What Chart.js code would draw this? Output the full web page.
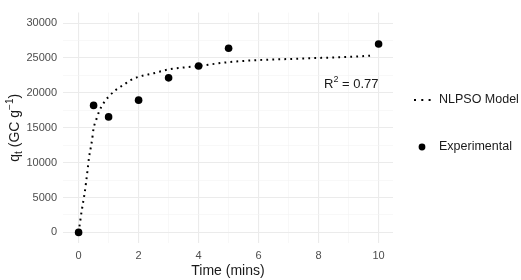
<!DOCTYPE html>
<html>
<head>
<meta charset="utf-8">
<script src="https://cdn.jsdelivr.net/npm/chart.js@4"></script>
<style>
  html, body { margin: 0; padding: 0; background: #fff; }
  #wrap { width: 521px; height: 280px; }
</style>
</head>
<body>
<div id="wrap"><canvas id="myChart" width="521" height="280"></canvas></div>
<script>
// experimental points
const expTime = [0, 0.5, 1, 2, 3, 4, 5, 10]
const expQ = [0, 18200, 16550, 18950, 22150, 23850, 26400, 27000]

// fitted NLPSO curve
const modelTime = [0, 0.05, 0.1, 0.15, 0.2, 0.25, 0.3, 0.35, 0.4, 0.45, 0.5, 0.6, 0.7, 0.8, 0.9, 1.0, 1.25, 1.5, 1.75, 2.0, 2.5, 3, 4, 5, 6, 7, 8, 9, 9.8]
const modelQ = [0, 1500, 3000, 4300, 5600, 7200, 9000, 10800, 12000, 13300, 14900, 16300, 17500, 18300, 18950, 19450, 20450, 21150, 21850, 22300, 22800, 23350, 23850, 24400, 24700, 24850, 25000, 25150, 25350]

// axis ticks
const xMajor = [0, 2, 4, 6, 8, 10]
const xMinor = [1, 3, 5, 7, 9]
const yMajor = [0, 5000, 10000, 15000, 20000, 25000, 30000]
const yMinor = [2500, 7500, 12500, 17500, 22500, 27500]

const rSquared = "0.77"

const FONT = "'Liberation Sans', Arial, sans-serif"
const canvasChart = document.getElementById("myChart").getContext("2d")

function toPoints(xs, ys) {
    return xs.map((x, i) => ({ x: x, y: ys[i] }))
}

function allTicks(major, minor) {
    return major.concat(minor).sort((a, b) => a - b).map((v) => ({ value: v }))
}

function gridColor(major) {
    return (ctx) => (ctx.tick && major.includes(ctx.tick.value) ? "#ebebeb" : "#f4f4f4")
}

function gridWidth(major) {
    return (ctx) => (ctx.tick && major.includes(ctx.tick.value) ? 1.1 : 0.6)
}

// draws a run of text pieces, some raised or lowered
function drawRich(ctx, parts, x, y) {
    let cx = x
    parts.forEach((p) => {
        ctx.font = p.size + "px " + FONT
        ctx.fillText(p.text, cx, y + (p.dy || 0))
        cx += ctx.measureText(p.text).width
    })
}

function richWidth(ctx, parts) {
    let w = 0
    parts.forEach((p) => {
        ctx.font = p.size + "px " + FONT
        w += ctx.measureText(p.text).width
    })
    return w
}

const extras = {
    id: "extras",
    afterDraw(chart) {
        const ctx = chart.ctx
        const area = chart.chartArea
        ctx.save()
        ctx.fillStyle = "#1a1a1a"
        ctx.textBaseline = "alphabetic"
        ctx.textAlign = "left"

        // y title
        const yTitle = [
            { text: "q", size: 14 },
            { text: "t", size: 10, dy: 3 },
            { text: " (GC g", size: 14 },
            { text: "\u22121", size: 10, dy: -6 },
            { text: ")", size: 14 },
        ]
        ctx.translate(19, (area.top + area.bottom) / 2)
        ctx.rotate(-Math.PI / 2)
        drawRich(ctx, yTitle, -richWidth(ctx, yTitle) / 2, 0)
        ctx.setTransform(1, 0, 0, 1, 0, 0)

        // R squared label
        drawRich(ctx, [
            { text: "R", size: 13 },
            { text: "2", size: 9, dy: -6 },
            { text: " = " + rSquared, size: 13 },
        ], 324, 88)

        // legend
        ctx.textBaseline = "middle"
        ctx.font = "12.5px " + FONT
        ctx.fillStyle = "#1a1a1a"
        ctx.fillText("NLPSO Model", 439, 100)
        ctx.fillText("Experimental", 439, 147)

        ctx.strokeStyle = "#000"
        ctx.lineWidth = 2
        ctx.setLineDash([2, 5.3])
        ctx.beginPath()
        ctx.moveTo(414, 100)
        ctx.lineTo(431, 100)
        ctx.stroke()
        ctx.setLineDash([])

        ctx.fillStyle = "#000"
        ctx.beginPath()
        ctx.arc(422, 147, 3.4, 0, Math.PI * 2)
        ctx.fill()
        ctx.restore()
    },
}

const myChart = new Chart(canvasChart, {
    type: "scatter",
    data: {
        datasets: [
            {
                label: "Experimental",
                data: toPoints(expTime, expQ),
                backgroundColor: "#000",
                borderColor: "#000",
                borderWidth: 0,
                pointRadius: 3.8,
                pointHoverRadius: 3.8,
                showLine: false,
            },
            {
                label: "NLPSO Model",
                data: toPoints(modelTime, modelQ),
                borderColor: "#000",
                borderWidth: 2,
                borderDash: [1.8, 4.2],
                pointRadius: 0,
                showLine: true,
                cubicInterpolationMode: "monotone",
            },
        ],
    },
    options: {
        responsive: false,
        animation: false,
        layout: { padding: { left: 0, top: 3, right: 128, bottom: 0 } },
        plugins: {
            legend: { display: false },
            tooltip: { enabled: false },
        },
        scales: {
            x: {
                type: "linear",
                min: -0.52,
                max: 10.48,
                afterBuildTicks: (scale) => { scale.ticks = allTicks(xMajor, xMinor) },
                afterFit: (scale) => { scale.height = 37 },
                ticks: {
                    autoSkip: false,
                    maxRotation: 0,
                    padding: 6,
                    color: "#4d4d4d",
                    font: { family: FONT, size: 11 },
                    callback: (v) => (xMajor.includes(v) ? String(v) : ""),
                },
                grid: { color: gridColor(xMajor), lineWidth: gridWidth(xMajor), drawTicks: false },
                border: { display: false },
                title: {
                    display: true,
                    text: "Time (mins)",
                    color: "#1a1a1a",
                    font: { family: FONT, size: 14 },
                    padding: { top: 0, bottom: 0 },
                },
            },
            y: {
                type: "linear",
                min: -1520,
                max: 31500,
                afterBuildTicks: (scale) => { scale.ticks = allTicks(yMajor, yMinor) },
                afterFit: (scale) => { scale.width = 63 },
                ticks: {
                    autoSkip: false,
                    padding: 6,
                    color: "#4d4d4d",
                    font: { family: FONT, size: 11 },
                    callback: (v) => (yMajor.includes(v) ? String(v) : ""),
                },
                grid: { color: gridColor(yMajor), lineWidth: gridWidth(yMajor), drawTicks: false },
                border: { display: false },
            },
        },
    },
    plugins: [extras],
})
</script>
</body>
</html>
